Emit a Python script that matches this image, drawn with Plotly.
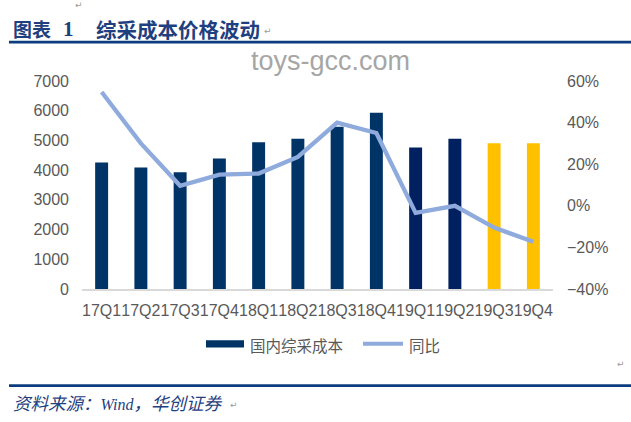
import plotly.graph_objects as go

categories = ["17Q1", "17Q2", "17Q3", "17Q4", "18Q1", "18Q2", "18Q3", "18Q4",
              "19Q1", "19Q2", "19Q3", "19Q4"]
cost_values = [4260, 4090, 3925, 4390, 4940, 5060, 5460, 5930, 4760, 5060, 4905, 4905]
yoy_values = [0.547, 0.30, 0.096, 0.150, 0.155, 0.235, 0.40, 0.35, -0.034, 0.0, -0.105, -0.173]
left_ticks = [0, 1000, 2000, 3000, 4000, 5000, 6000, 7000]
right_ticks = [-0.4, -0.2, 0.0, 0.2, 0.4, 0.6]

bar_colors = ["#003366"] * 8 + ["#002060"] * 2 + ["#FFC000"] * 2
line_color = "#8FAADC"

W, H = 631, 422
L, R = 82, 553
T, B = 80.5, 289.5


def px(x):
    return (x - L) / (R - L)


def py(y):
    return (B - y) / (B - T)


fig = go.Figure()
fig.add_trace(go.Bar(x=categories, y=cost_values, marker=dict(color=bar_colors, line=dict(width=0)),
                     width=0.33, name="国内综采成本", yaxis="y", showlegend=False))
fig.add_trace(go.Scatter(x=categories, y=yoy_values, mode="lines", name="同比",
                         line=dict(color=line_color, width=4.3), yaxis="y2", showlegend=False))

tick_font = dict(family="Liberation Sans, Arial, sans-serif", size=16, color="#595959")

fig.update_layout(
    width=W, height=H,
    margin=dict(l=L, r=W - R, t=T, b=H - B, autoexpand=False),
    paper_bgcolor="white", plot_bgcolor="white",
    bargap=0.67,
    xaxis=dict(type="category", showgrid=False, showline=True, linecolor="#D9D9D9", linewidth=2,
               ticks="", tickfont=tick_font, tickangle=0, ticklabelstandoff=6, automargin=False),
    yaxis=dict(range=[0, 7000], tickvals=left_ticks, showgrid=False, zeroline=False,
               showline=False, ticks="", tickfont=tick_font, ticklabelstandoff=12, automargin=False),
    yaxis2=dict(range=[-0.4, 0.6], tickvals=right_ticks, tickformat=".0%", overlaying="y",
                side="right", showgrid=False, zeroline=False, showline=False, ticks="",
                tickfont=tick_font, ticklabelstandoff=13, automargin=False),
)

shapes = []
# top and bottom rules
shapes.append(dict(type="line", xref="paper", yref="paper", x0=px(9), x1=px(631), y0=py(41.5), y1=py(41.5),
                   line=dict(color="#0B3D7E", width=2.7)))
shapes.append(dict(type="line", xref="paper", yref="paper", x0=px(9), x1=px(631), y0=py(386.5), y1=py(386.5),
                   line=dict(color="#0B3D7E", width=2.7)))
# legend swatches
shapes.append(dict(type="rect", xref="paper", yref="paper", x0=px(206), x1=px(244), y0=py(348.3), y1=py(341),
                   fillcolor="#003366", line=dict(width=0)))
shapes.append(dict(type="line", xref="paper", yref="paper", x0=px(363), x1=px(403), y0=py(344.5), y1=py(344.5),
                   line=dict(color=line_color, width=4)))

ann = []
cjk = "Noto Sans CJK SC"
ann.append(dict(text="<b>图表</b>", x=px(11), y=py(28), xref="paper", yref="paper", xanchor="left", yanchor="middle",
                showarrow=False, font=dict(family=cjk, size=19, color="#1F3F7F")))
ann.append(dict(text="<b>1</b>", x=px(61), y=py(28), xref="paper", yref="paper", xanchor="left", yanchor="middle",
                showarrow=False, font=dict(family="Liberation Serif", size=21, color="#1F3F7F")))
ann.append(dict(text="<b>综采成本价格波动</b>", x=px(94), y=py(28), xref="paper", yref="paper", xanchor="left",
                yanchor="middle", showarrow=False, font=dict(family=cjk, size=20.5, color="#1F3F7F")))
ann.append(dict(text="toys-gcc.com", x=px(330), y=py(60), xref="paper", yref="paper", xanchor="center",
                yanchor="middle", showarrow=False, font=dict(family="Liberation Sans", size=27, color="#A6A6A6")))
ann.append(dict(text="国内综采成本", x=px(248), y=py(345.5), xref="paper", yref="paper", xanchor="left",
                yanchor="middle", showarrow=False, font=dict(family=cjk, size=15.5, color="#595959")))
ann.append(dict(text="同比", x=px(407), y=py(345.5), xref="paper", yref="paper", xanchor="left",
                yanchor="middle", showarrow=False, font=dict(family=cjk, size=15.5, color="#595959")))
ann.append(dict(text="<i>资料来源：<span style='font-size:16px'>Wind</span>，华创证券</i>", x=px(11), y=py(405),
                xref="paper", yref="paper", xanchor="left", yanchor="middle", showarrow=False,
                font=dict(family="Liberation Serif, " + cjk, size=17.5, color="#1F3F7F")))
for (xx, yy) in [(268, 30), (79, 4), (621, 365), (234, 406)]:
    ann.append(dict(text="↵", x=px(xx), y=py(yy), xref="paper", yref="paper", xanchor="center",
                    yanchor="middle", showarrow=False, font=dict(family="DejaVu Sans", size=9, color="#9A9A9A")))

fig.update_layout(shapes=shapes, annotations=ann)
fig.write_html("out.html", config={"displayModeBar": False},
               post_script="document.body.style.margin='0';document.body.style.padding='0';")
